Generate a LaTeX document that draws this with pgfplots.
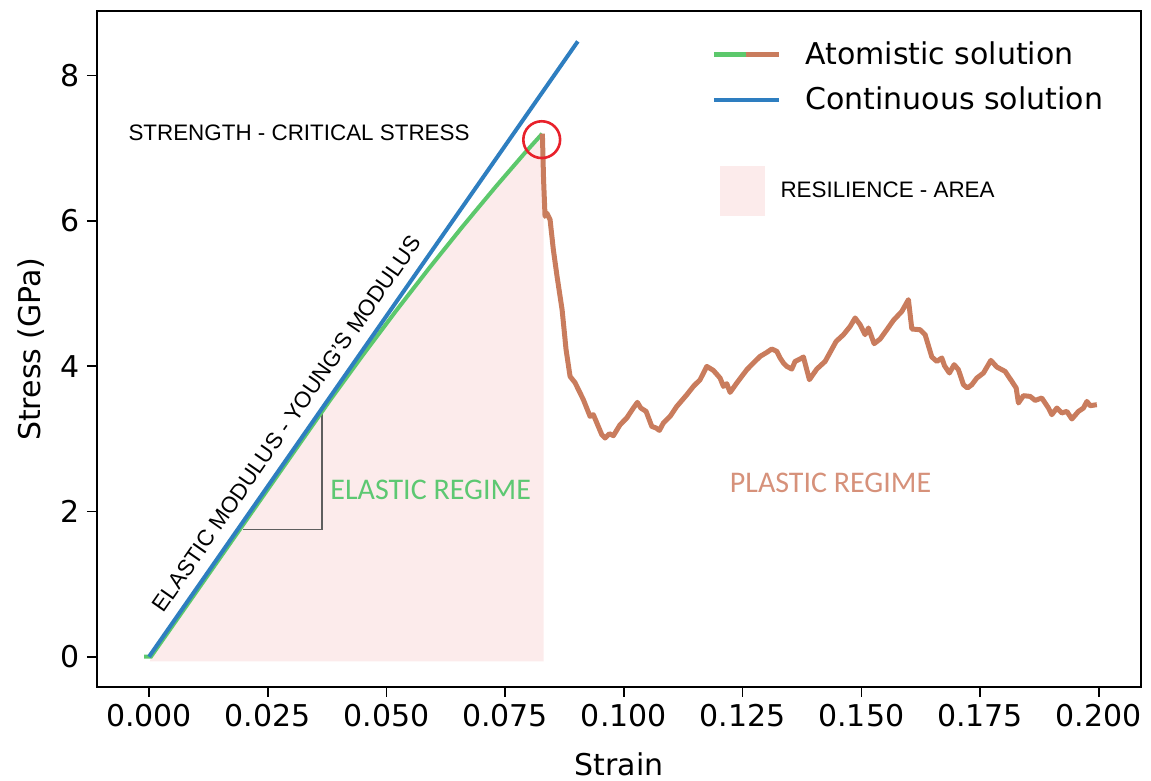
\documentclass[border=0pt]{standalone}
\usepackage{fontspec}
\setmainfont{DejaVu Sans}
\newfontfamily\arialfont{Liberation Sans}
\newfontfamily\califont{Carlito}
\usepackage{pgfplots}
\pgfplotsset{compat=1.18}

\definecolor{cblue}{HTML}{2E7EC0}
\definecolor{cgreen}{HTML}{5CC86C}
\definecolor{cbrown}{HTML}{C97C5D}
\definecolor{cpink}{HTML}{FCEBEB}
\definecolor{cred}{HTML}{E8212B}
\definecolor{tgreen}{HTML}{5DC872}
\definecolor{tbrown}{HTML}{D6917A}
\definecolor{cgray}{HTML}{5E5E5E}

\begin{document}
\begin{tikzpicture}
\useasboundingbox (-48.5pt,-47pt) rectangle (527pt,343.5pt);
\begin{axis}[
  scale only axis, width=522pt, height=337.8pt,
  xmin=-0.01095, xmax=0.2089, ymin=-0.417, ymax=8.885,
  xtick={0,0.025,0.05,0.075,0.1,0.125,0.15,0.175,0.2},
  ytick={0,2,4,6,8},
  xticklabel style={/pgf/number format/.cd, fixed, fixed zerofill, precision=3},
  /pgf/number format/assume math mode=true,
  tick pos=left, tick align=outside, major tick length=5pt,
  tick style={line width=0.8pt, black},
  axis line style={line width=0.9pt},
  tick label style={font=\fontsize{15}{18}\selectfont},
  label style={font=\fontsize{15}{18}\selectfont},
  xlabel={Strain}, ylabel={Stress (GPa)},
  xlabel style={yshift=-6pt},
  ylabel style={yshift=1.5pt},
  legend style={draw=none, fill=none, at={(axis cs:0.1171,8.578)}, anchor=north west,
    font=\fontsize{15}{18}\selectfont, row sep=5.5pt},
  legend cell align=left,
]

% resilience area under the elastic branch
\addplot[fill=cpink, draw=none, forget plot] coordinates {
  (0.0002,-0.065) (0.0004,0) (0.0088,0.785) (0.0235,2.162) (0.0382,3.539)
  (0.0450,4.150) (0.0520,4.760) (0.0590,5.350) (0.0660,5.920) (0.0730,6.470)
  (0.0790,6.925) (0.0828,7.201)
  (0.0831,7.15) (0.0831,-0.065)
} -- cycle;

% slope triangle
\addplot[cgray, line width=0.8pt, forget plot] coordinates {
  (0.0198,1.749) (0.03637,1.749) (0.03637,3.36)
};

% atomistic, elastic part
\addplot[cgreen, line width=2pt, forget plot] coordinates {
  (-0.00105,0) (0.0004,0) (0.0088,0.785) (0.0235,2.162) (0.0382,3.539)
  (0.0450,4.150) (0.0520,4.760) (0.0590,5.350) (0.0660,5.920) (0.0730,6.470)
  (0.0790,6.925) (0.0828,7.201)
};

% atomistic, plastic part
\addplot[cbrown, line width=2.5pt, line join=round, forget plot] coordinates {
  (0.08284,7.201) (0.08309,6.568) (0.08340,6.063) (0.08376,6.109) (0.08446,6.017)
  (0.08515,5.604) (0.08593,5.236) (0.08699,4.778) (0.08783,4.227) (0.08867,3.859)
  (0.08972,3.773) (0.09147,3.539) (0.09288,3.309) (0.09358,3.332) (0.09429,3.222)
  (0.09535,3.057) (0.09604,3.011) (0.09695,3.070) (0.09779,3.043) (0.09920,3.194)
  (0.10061,3.287) (0.10200,3.424) (0.10285,3.502) (0.10356,3.424) (0.10468,3.378)
  (0.10588,3.171) (0.10678,3.149) (0.10748,3.116) (0.10832,3.218) (0.10973,3.309)
  (0.11114,3.446) (0.11325,3.607) (0.11464,3.722) (0.11605,3.814) (0.11746,3.997)
  (0.11885,3.942) (0.12026,3.837) (0.12096,3.722) (0.12167,3.759) (0.12237,3.639)
  (0.12378,3.769) (0.12589,3.952) (0.12728,4.044) (0.12869,4.135) (0.13010,4.190)
  (0.13115,4.237) (0.13221,4.204) (0.13290,4.113) (0.13360,4.044) (0.13431,3.997)
  (0.13536,3.961) (0.13606,4.066) (0.13711,4.099) (0.13781,4.127) (0.13907,3.814)
  (0.14063,3.961) (0.14238,4.066) (0.14470,4.341) (0.14624,4.434) (0.14765,4.548)
  (0.14870,4.664) (0.14975,4.571) (0.15080,4.434) (0.15150,4.526) (0.15270,4.310)
  (0.15396,4.374) (0.15537,4.502) (0.15676,4.631) (0.15853,4.754) (0.15992,4.916)
  (0.16064,4.512) (0.16239,4.502) (0.16344,4.434) (0.16485,4.127) (0.16590,4.066)
  (0.16696,4.113) (0.16751,4.007) (0.16856,3.906) (0.16955,4.021) (0.17045,3.952)
  (0.17151,3.745) (0.17235,3.700) (0.17327,3.745) (0.17433,3.837) (0.17572,3.906)
  (0.17728,4.080) (0.17854,3.989) (0.18029,3.928) (0.18170,3.791) (0.18261,3.700)
  (0.18309,3.493) (0.18414,3.594) (0.18556,3.584) (0.18661,3.529) (0.18801,3.562)
  (0.18941,3.424) (0.19012,3.332) (0.19118,3.424) (0.19223,3.356) (0.19328,3.378)
  (0.19434,3.273) (0.19573,3.378) (0.19678,3.424) (0.19750,3.515) (0.19819,3.456)
  (0.19960,3.470)
};

% continuous solution
\addplot[cblue, line width=2pt, forget plot] coordinates {
  (0,0) (0.0903,8.472)
};

\addlegendimage{legend image code/.code={
  \draw[cgreen, line width=2.5pt] (0pt,0pt) -- (15.8pt,0pt);
  \draw[cbrown, line width=2.5pt] (15.8pt,0pt) -- (32.5pt,0pt);
  \path (43.5pt,0pt);}}
\addlegendentry{Atomistic solution}
\addlegendimage{legend image code/.code={
  \draw[cblue, line width=2pt] (0pt,0pt) -- (32.5pt,0pt);
  \path (43.5pt,0pt);}}
\addlegendentry{Continuous solution}

% annotations
\draw[cred, line width=1.3pt] (axis cs:0.0827,7.119) circle (9.2pt);
\fill[cpink] (axis cs:0.12026,6.063) rectangle (axis cs:0.12974,6.751);
\node[font=\arialfont\fontsize{11.2}{13}\selectfont, anchor=west, inner sep=0pt]
  at (axis cs:-0.0044,7.215) {STRENGTH - CRITICAL STRESS};
\node[font=\arialfont\fontsize{11.2}{13}\selectfont, anchor=west, inner sep=0pt]
  at (axis cs:0.1329,6.43) {RESILIENCE - AREA};
\node[font=\arialfont\fontsize{11.2}{13}\selectfont, anchor=south, rotate=55.13, inner sep=6pt]
  at (axis cs:0.0325,3.05) {ELASTIC MODULUS - YOUNG’S MODULUS};
\node[font=\califont\fontsize{15}{18}\selectfont, text=tgreen, anchor=west, inner sep=0pt]
  at (axis cs:0.03812,2.30) {ELASTIC REGIME};
\node[font=\califont\fontsize{15}{18}\selectfont, text=tbrown, inner sep=0pt]
  at (axis cs:0.14353,2.396) {PLASTIC REGIME};

\end{axis}
\end{tikzpicture}
\end{document}
